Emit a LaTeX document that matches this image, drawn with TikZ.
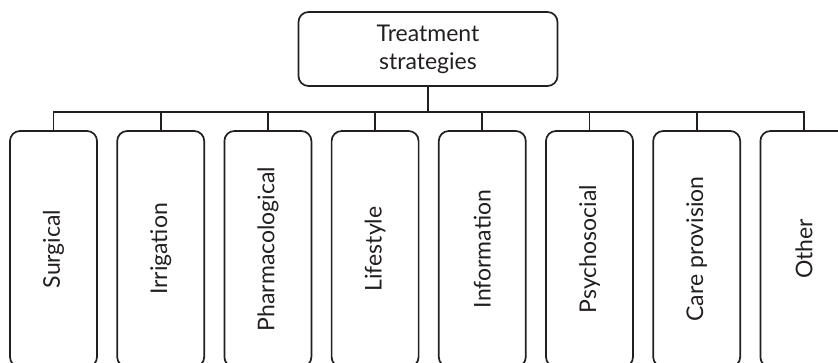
\documentclass[tikz,border=0pt]{standalone}
\usepackage{fontspec}
\setmainfont{Lato}
\definecolor{ink}{HTML}{231F20}
\tikzset{
  box/.style={draw=ink, line width=1.7pt, rounded corners=10pt, text=ink,
    font=\fontsize{23pt}{28pt}\selectfont, inner sep=0pt},
  rootbox/.style={box, minimum width=259pt, minimum height=74pt, align=center},
  leafbox/.style={box, rotate=90, minimum width=236pt, minimum height=87pt},
  link/.style={draw=ink, line width=1.7pt}
}
\begin{document}
\begin{tikzpicture}[x=1pt, y=-1pt]
  \useasboundingbox (0,0) rectangle (838,363);
  \clip (0,0) rectangle (838,363);

  % root of the tree
  \node[rootbox] (root) at (428,49) {Treatment\\strategies};
  \path (root.south) ++(0,25) coordinate (hub);

  % leaves (rotated, so their east anchor is the top edge)
  \node[leafbox] (surg)  at (53.5,249)  {Surgical};
  \node[leafbox] (irr)   at (160.7,249) {Irrigation};
  \node[leafbox] (pharm) at (267.9,249) {Pharmacological};
  \node[leafbox] (life)  at (375.1,249) {Lifestyle};
  \node[leafbox] (info)  at (482.3,249) {Information};
  \node[leafbox] (psy)   at (589.5,249) {Psychosocial};
  \node[leafbox] (care)  at (696.7,249) {Care provision};
  \node[leafbox] (oth)   at (803.9,249) {Other};

  % connectors
  \draw[link] (root.south) -- (hub);
  \foreach \n in {surg,irr,pharm,life,info,psy,care,oth}
    \draw[link] (hub) -| (\n.east);
\end{tikzpicture}
\end{document}
